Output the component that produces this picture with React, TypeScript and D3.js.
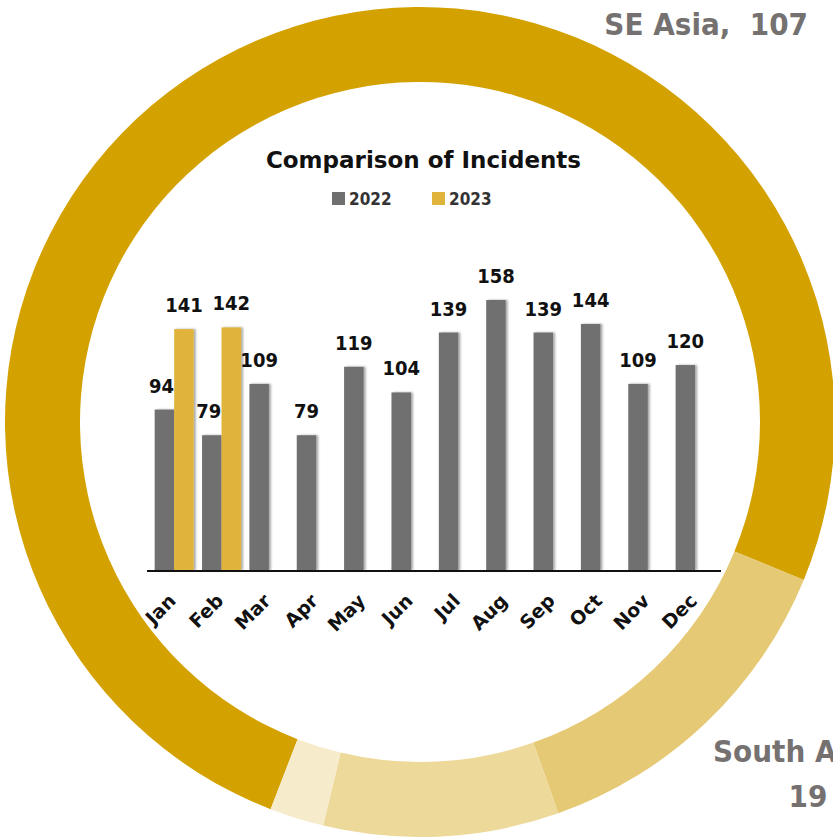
import React from "react";
import * as d3 from "d3";

const months = ["Jan", "Feb", "Mar", "Apr", "May", "Jun", "Jul", "Aug", "Sep", "Oct", "Nov", "Dec"];
const values2022 = [94, 79, 109, 79, 119, 104, 139, 158, 139, 144, 109, 120];
const values2023: (number | null)[] = [141, 142, null, null, null, null, null, null, null, null, null, null];
const seriesNames = ["2022", "2023"];

const regions = ["SE Asia", "South Asia", "Region 3", "Region 4"];
const regionValues = [107, 19, 13, 3];
const regionColors = ["#D4A200", "#E5C974", "#EDD99A", "#F6EBCB"];

const W = 833;
const H = 837;
const FONT = '"DejaVu Sans", sans-serif';

export default function App() {
  const cx = 420, cy = 422;
  const start = (201.1 * Math.PI) / 180;
  const pie = d3.pie<number>().sort(null).value((d) => d).startAngle(start).endAngle(start + 2 * Math.PI);
  const arcs = pie(regionValues);
  const arc = d3.arc<d3.PieArcDatum<number>>().innerRadius(340).outerRadius(415);

  const x = d3.scaleBand<string>().domain(months).range([147.5, 715.8]).padding(0);
  const xSub = d3.scaleBand<string>().domain(seriesNames).range([-16.5, 22.5]).padding(0);
  const y = d3.scaleLinear().domain([0, 158]).range([570.5, 300]);
  const bw = xSub.bandwidth();
  const center = (m: string) => (x(m) as number) + x.bandwidth() / 2;

  return (
    <svg width={W} height={H} style={{ position: "absolute", left: 0, top: 0, background: "#fff" }} fontFamily={FONT}>
      <defs>
        <filter id="sh" x="-30%" y="-10%" width="160%" height="120%">
          <feDropShadow dx="2" dy="0" stdDeviation="1.2" floodColor="#000" floodOpacity="0.35" />
        </filter>
      </defs>
      <rect width={W} height={H} fill="#fff" />
      <g transform={`translate(${cx},${cy})`}>
        {arcs.map((a, i) => (
          <path key={regions[i]} d={arc(a) as string} fill={regionColors[i]} />
        ))}
      </g>
      {/* Pie labels */}
      <text x={808} y={35} textAnchor="end" fontSize={31} fontWeight="bold" fill="#767171" style={{ fontStretch: "condensed" }}>
        {regions[0]},{"\u00A0"} {regionValues[0]}
      </text>
      <text fontSize={31} fontWeight="bold" fill="#767171" style={{ fontStretch: "condensed" }}>
        <tspan x={713} y={762}>{regions[1]},</tspan>
        <tspan x={808} y={807} textAnchor="middle">{regionValues[1]}</tspan>
      </text>

      {/* Title & legend */}
      <text x={423.5} y={168} textAnchor="middle" fontSize={23} fontWeight="bold" fill="#111">
        Comparison of Incidents
      </text>
      <g fontSize={17} fontWeight="bold" fill="#333">
        <rect x={332} y={192} width={13} height={13} fill="#6F6F6F" />
        <text x={349} y={205} style={{ fontStretch: "condensed" }}>{seriesNames[0]}</text>
        <rect x={432} y={192} width={13} height={13} fill="#E0B43A" />
        <text x={449} y={205} style={{ fontStretch: "condensed" }}>{seriesNames[1]}</text>
      </g>

      {/* Bars */}
      <g filter="url(#sh)">
        {months.map((m, i) => (
          <rect key={"a" + m} x={center(m) + (xSub("2022") as number)} y={y(values2022[i])} width={bw} height={y(0) - y(values2022[i])} fill="#6F6F6F" />
        ))}
        {months.map((m, i) =>
          values2023[i] == null ? null : (
            <rect key={"b" + m} x={center(m) + (xSub("2023") as number)} y={y(values2023[i] as number)} width={bw} height={y(0) - y(values2023[i] as number)} fill="#E0B43A" />
          )
        )}
      </g>
      {/* Value labels */}
      <g fontSize={20} fontWeight="bold" fill="#111" textAnchor="middle" style={{ fontStretch: "condensed" }}>
        {months.map((m, i) => (
          <text key={"la" + m} x={center(m) + (xSub("2022") as number) + bw / 2 - (values2023[i] == null ? 0 : 3)} y={y(values2022[i]) - 17}>
            {values2022[i]}
          </text>
        ))}
        {months.map((m, i) =>
          values2023[i] == null ? null : (
            <text key={"lb" + m} x={center(m) + (xSub("2023") as number) + bw / 2} y={y(values2023[i] as number) - 17}>
              {values2023[i]}
            </text>
          )
        )}
      </g>
      {/* Axis */}
      <line x1={147} x2={721} y1={571} y2={571} stroke="#111" strokeWidth={2} />
      <g fontSize={19} fontWeight="bold" fill="#111">
        {months.map((m) => (
          <text key={"t" + m} textAnchor="end" transform={`translate(${center(m) + 6},${602}) rotate(-45)`}>
            {m}
          </text>
        ))}
      </g>
    </svg>
  );
}
